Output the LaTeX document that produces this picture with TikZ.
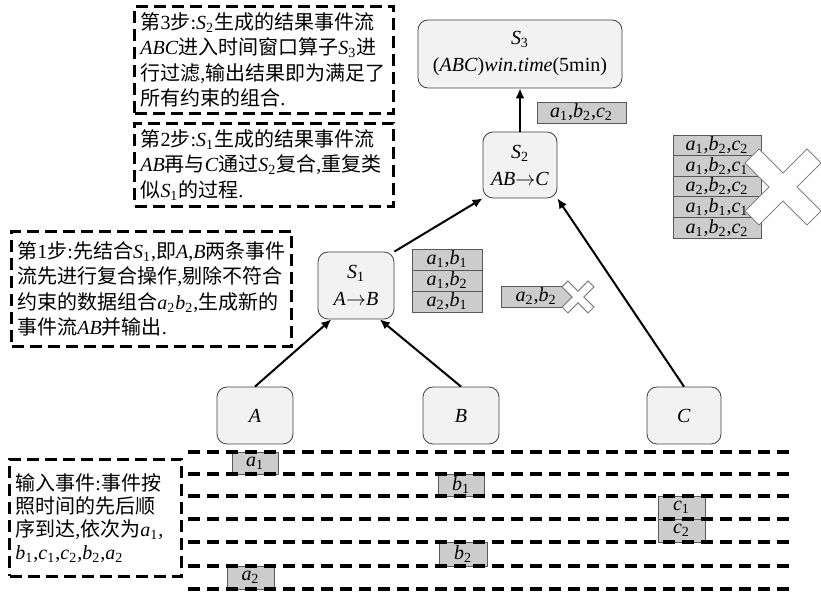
\documentclass[tikz,border=0pt]{standalone}
\usepackage{fontspec}
\setmainfont{Liberation Serif}
\newfontfamily\cjk{Noto Sans CJK SC}
\usetikzlibrary{arrows.meta}
\newcommand\zh[1]{{\cjk #1}}
\newcommand\vv[2]{\textit{#1}\textsubscript{#2}}
\tikzset{
  cross/.pic={
    \draw[cr] (0,-14) -- (24,-38) -- (38,-24) -- (14,0) -- (38,24) -- (24,38)
      -- (0,14) -- (-24,38) -- (-38,24) -- (-14,0) -- (-38,-24) -- (-24,-38) -- cycle;
  }
}

\begin{document}
\begin{tikzpicture}[x=0.5pt, y=-0.5pt,
  >={Latex[length=5pt,width=4.5pt]},
  op/.style={draw=black!75, fill=black!5, rounded corners=5pt, align=center,
             inner sep=0pt, font=\fontsize{10}{13.5}\selectfont},
  note/.style={draw, line width=1.5pt, dash pattern=on 6pt off 3pt,
               anchor=north west, align=left, inner ysep=0pt, inner xsep=3pt,
               font=\fontsize{10}{12.75}\selectfont},
  ev/.style={draw=black!65, fill=black!20, inner sep=0pt, minimum height=10.5pt,
             font=\fontsize{10}{12}\selectfont},
  cr/.style={fill=white, draw=black!50, line width=0.5pt},
  lane/.style={line width=1.6pt, dash pattern=on 6pt off 3.5pt},
  fl/.style={->, line width=1pt}]

  \useasboundingbox (0,0) rectangle (821,597);

  \node[note, text width=123.5pt, minimum height=53.5pt] (st3) at (133,5)
    {\zh{第}3\zh{步}:\vv{S}{2}\zh{生成的结果事件流}\\
     \textit{ABC}\zh{进入时间窗口算子}\vv{S}{3}\zh{进}\\
     \zh{行过滤},\zh{输出结果即为满足了}\\
     \zh{所有约束的组合}.};
  \node[note, text width=123.5pt, minimum height=41.5pt] (st2) at (133,122)
    {\zh{第}2\zh{步}:\vv{S}{1}\zh{生成的结果事件流}\\
     \textit{AB}\zh{再与}\textit{C}\zh{通过}\vv{S}{2}\zh{复合},\zh{重复类}\\
     \zh{似}\vv{S}{1}\zh{的过程}.};
  \node[note, text width=134pt, minimum height=57.5pt] (st1) at (10,230)
    {\zh{第}1\zh{步}:\zh{先结合}\vv{S}{1},\zh{即}\textit{A},\textit{B}\zh{两条事件}\\
     \zh{流先进行复合操作},\zh{剔除不符合}\\
     \zh{约束的数据组合}\vv{a}{2}\vv{b}{2},\zh{生成新的}\\
     \zh{事件流}\textit{AB}\zh{并输出}.};
  \node[note, text width=80pt, minimum height=58.5pt,
        font=\fontsize{10}{11.5}\selectfont] (inp) at (8,458)
    {\zh{输入事件}:\zh{事件按}\\
     \zh{照时间的先后顺}\\
     \zh{序到达},\zh{依次为}\vv{a}{1},\\
     \vv{b}{1},\vv{c}{1},\vv{c}{2},\vv{b}{2},\vv{a}{2}};

  \node[op, minimum width=102pt, minimum height=34pt] (s3) at (520,54)
    {\vv{S}{3}\\(\textit{ABC})\textit{win.time}(5min)};
  \node[op, minimum width=37pt, minimum height=33pt] (s2) at (520,165)
    {\vv{S}{2}\\\textit{AB}$\rightarrow$\textit{C}};
  \node[op, minimum width=38pt, minimum height=33.5pt] (s1) at (356,285.5)
    {\vv{S}{1}\\\textit{A}$\rightarrow$\textit{B}};
  \node[op, minimum width=38pt, minimum height=28.5pt] (a) at (255,415.5) {\textit{A}};
  \node[op, minimum width=38pt, minimum height=28.5pt] (b) at (461,415.5) {\textit{B}};
  \node[op, minimum width=37pt, minimum height=28.5pt] (c) at (684,415.5) {\textit{C}};

  \draw[fl] (a.north) -- (s1.234);
  \draw[fl] (b.north) -- (s1.305);
  \draw[fl] (s1.north east) -- (s2.south west);
  \draw[fl] (c.north) -- (s2.south east);
  \draw[fl] (s2) -- (s3);

  \node[ev, minimum width=44.5pt] (r3) at (581.5,112.5) {\vv{a}{1},\vv{b}{2},\vv{c}{2}};
  \foreach \p/\q/\r [count=\i] in {1/2/2, 1/2/1, 2/2/2, 1/1/1, 1/2/2}
    \node[ev, minimum width=44pt, minimum height=10.3pt] (m\i) at (717,124.7+20.6*\i)
      {\vv{a}{\p},\vv{b}{\q},\vv{c}{\r}};
  \foreach \p/\q [count=\i] in {1/1, 1/2, 2/1}
    \node[ev, minimum width=35pt] (k\i) at (447,238.5+21*\i) {\vv{a}{\p},\vv{b}{\q}};
  \node[ev, minimum width=35pt] (d) at (536,296.5) {\vv{a}{2},\vv{b}{2}};

  \pic at (783,187) {cross};
  \pic[scale=0.42] at (578,297) {cross};

  \node[ev, minimum width=23pt, minimum height=11pt] (ea1) at (255,463) {\vv{a}{1}};
  \node[ev, minimum width=23pt, minimum height=11pt] (eb1) at (461,485) {\vv{b}{1}};
  \node[ev, minimum width=23.5pt, minimum height=11.5pt] (ec1) at (681.5,507.5) {\vv{c}{1}};
  \node[ev, minimum width=23.5pt, minimum height=11.5pt] (ec2) at (681.5,530.5) {\vv{c}{2}};
  \node[ev, minimum width=24pt, minimum height=12pt] (eb2) at (463,554) {\vv{b}{2}};
  \node[ev, minimum width=23.5pt, minimum height=11.5pt] (ea2) at (250.5,577.5) {\vv{a}{2}};

  \foreach \y in {452,474,496,519,542,566,589}
    \draw[lane] (188,\y) -- (790,\y);
\end{tikzpicture}
\end{document}
